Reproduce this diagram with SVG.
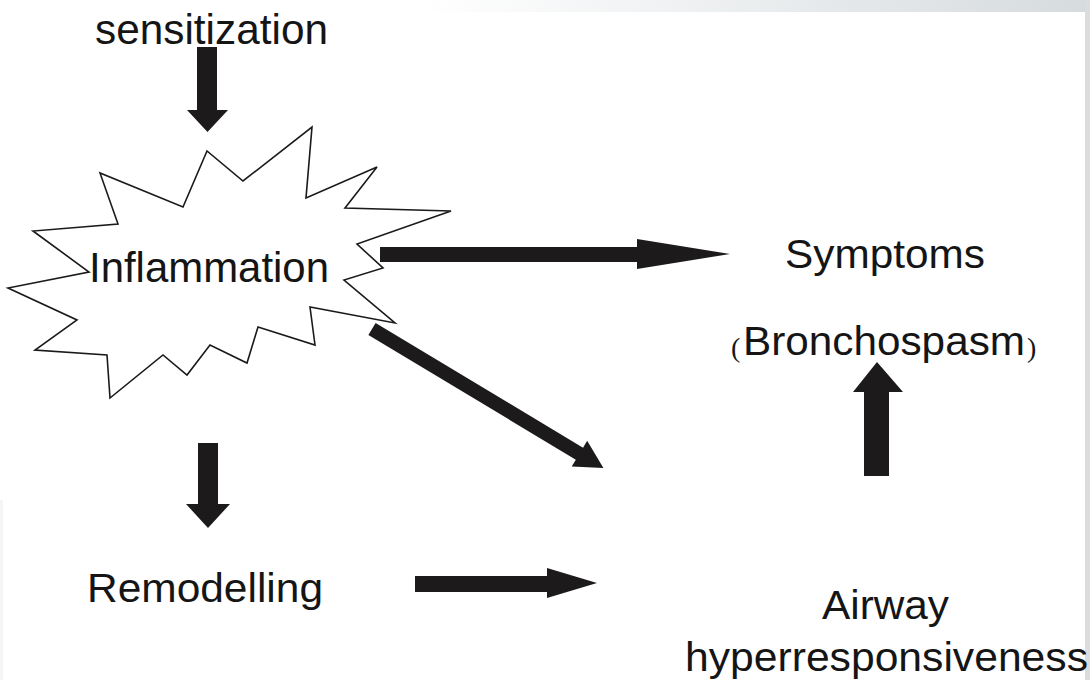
<svg xmlns="http://www.w3.org/2000/svg" width="1090" height="680" viewBox="0 0 1090 680">
  <defs>
    <linearGradient id="bgTop" x1="0" y1="0" x2="1" y2="0">
      <stop offset="0" stop-color="#ffffff"/>
      <stop offset="1" stop-color="#d6dbde"/>
    </linearGradient>
    <style>
      .lbl { font-family: "Liberation Sans", Arial, Helvetica, sans-serif; fill: #151515; }
      .big { font-size: 42px; }
      .mid { font-size: 40px; }
      .par { font-family: "Liberation Serif", "Times New Roman", serif; font-size: 28px; fill: #151515; }
      .arrow { fill: #1c1a1a; stroke: none; }
      .star { fill: #ffffff; stroke: #1a1a1a; stroke-width: 1.6; stroke-linejoin: miter; }
    </style>
  </defs>

  <!-- background -->
  <rect x="0" y="0" width="1090" height="680" fill="#ffffff"/>
  <rect x="420" y="0" width="670" height="12" fill="url(#bgTop)"/>
  <rect x="1085" y="0" width="5" height="680" fill="#d9dde0"/>
  <rect x="0" y="500" width="3" height="180" fill="#f4f5f6"/>

  <g id="node-sensitization">
    <text class="lbl big" x="95" y="44" textLength="233" lengthAdjust="spacingAndGlyphs">sensitization</text>
  </g>

  <g id="node-inflammation">
    <polygon class="star" points="312,127 306,198 377,167 345,208 451,211 357,244 383,268 344,280 395,323 310,307 315,345 258,327 247,363 210,345 187,375 163,355 110,398 107,355 35,350 77,320 8,288 89,272 33,231 118,224 100,173 183,207 207,151 243,181"/>
    <text class="lbl big" x="89" y="282" textLength="240" lengthAdjust="spacingAndGlyphs">Inflammation</text>
  </g>

  <g id="node-symptoms">
    <text class="lbl mid" x="785" y="268" textLength="200" lengthAdjust="spacingAndGlyphs">Symptoms</text>
    <text class="par" x="731" y="357">(</text>
    <text class="lbl mid" x="743" y="355" textLength="282" lengthAdjust="spacingAndGlyphs">Bronchospasm</text>
    <text class="par" x="1027" y="357">)</text>
  </g>

  <g id="node-remodelling">
    <text class="lbl mid" x="87" y="602" textLength="236" lengthAdjust="spacingAndGlyphs">Remodelling</text>
  </g>

  <g id="node-ahr">
    <text class="lbl mid" x="822" y="619" textLength="127" lengthAdjust="spacingAndGlyphs">Airway</text>
    <text class="lbl mid" x="685" y="671" textLength="403" lengthAdjust="spacingAndGlyphs">hyperresponsiveness</text>
  </g>

  <g id="connectors">
    <!-- sensitization -> inflammation -->
    <polygon class="arrow" points="197,47 217,47 217,110 228,110 207.5,132 187,110 197,110"/>
    <!-- inflammation -> symptoms -->
    <polygon class="arrow" points="380,247 637,247 637,239 730,254 637,269 637,262 380,262"/>
    <!-- inflammation -> airway hyperresponsiveness -->
    <polygon class="arrow" transform="translate(372,329) rotate(31)" points="0,-7 242,-7 242,-15 270,0 242,15 242,7 0,7"/>
    <!-- inflammation -> remodelling -->
    <polygon class="arrow" points="198,443 218,443 218,504 230,504 208,528 186,504 198,504"/>
    <!-- remodelling -> airway hyperresponsiveness -->
    <polygon class="arrow" points="415,576 547,576 547,568 597,583 547,598 547,592 415,592"/>
    <!-- airway hyperresponsiveness -> bronchospasm -->
    <polygon class="arrow" points="864,476 864,392 853,392 877,362 903,392 889,392 889,476"/>
  </g>
</svg>
